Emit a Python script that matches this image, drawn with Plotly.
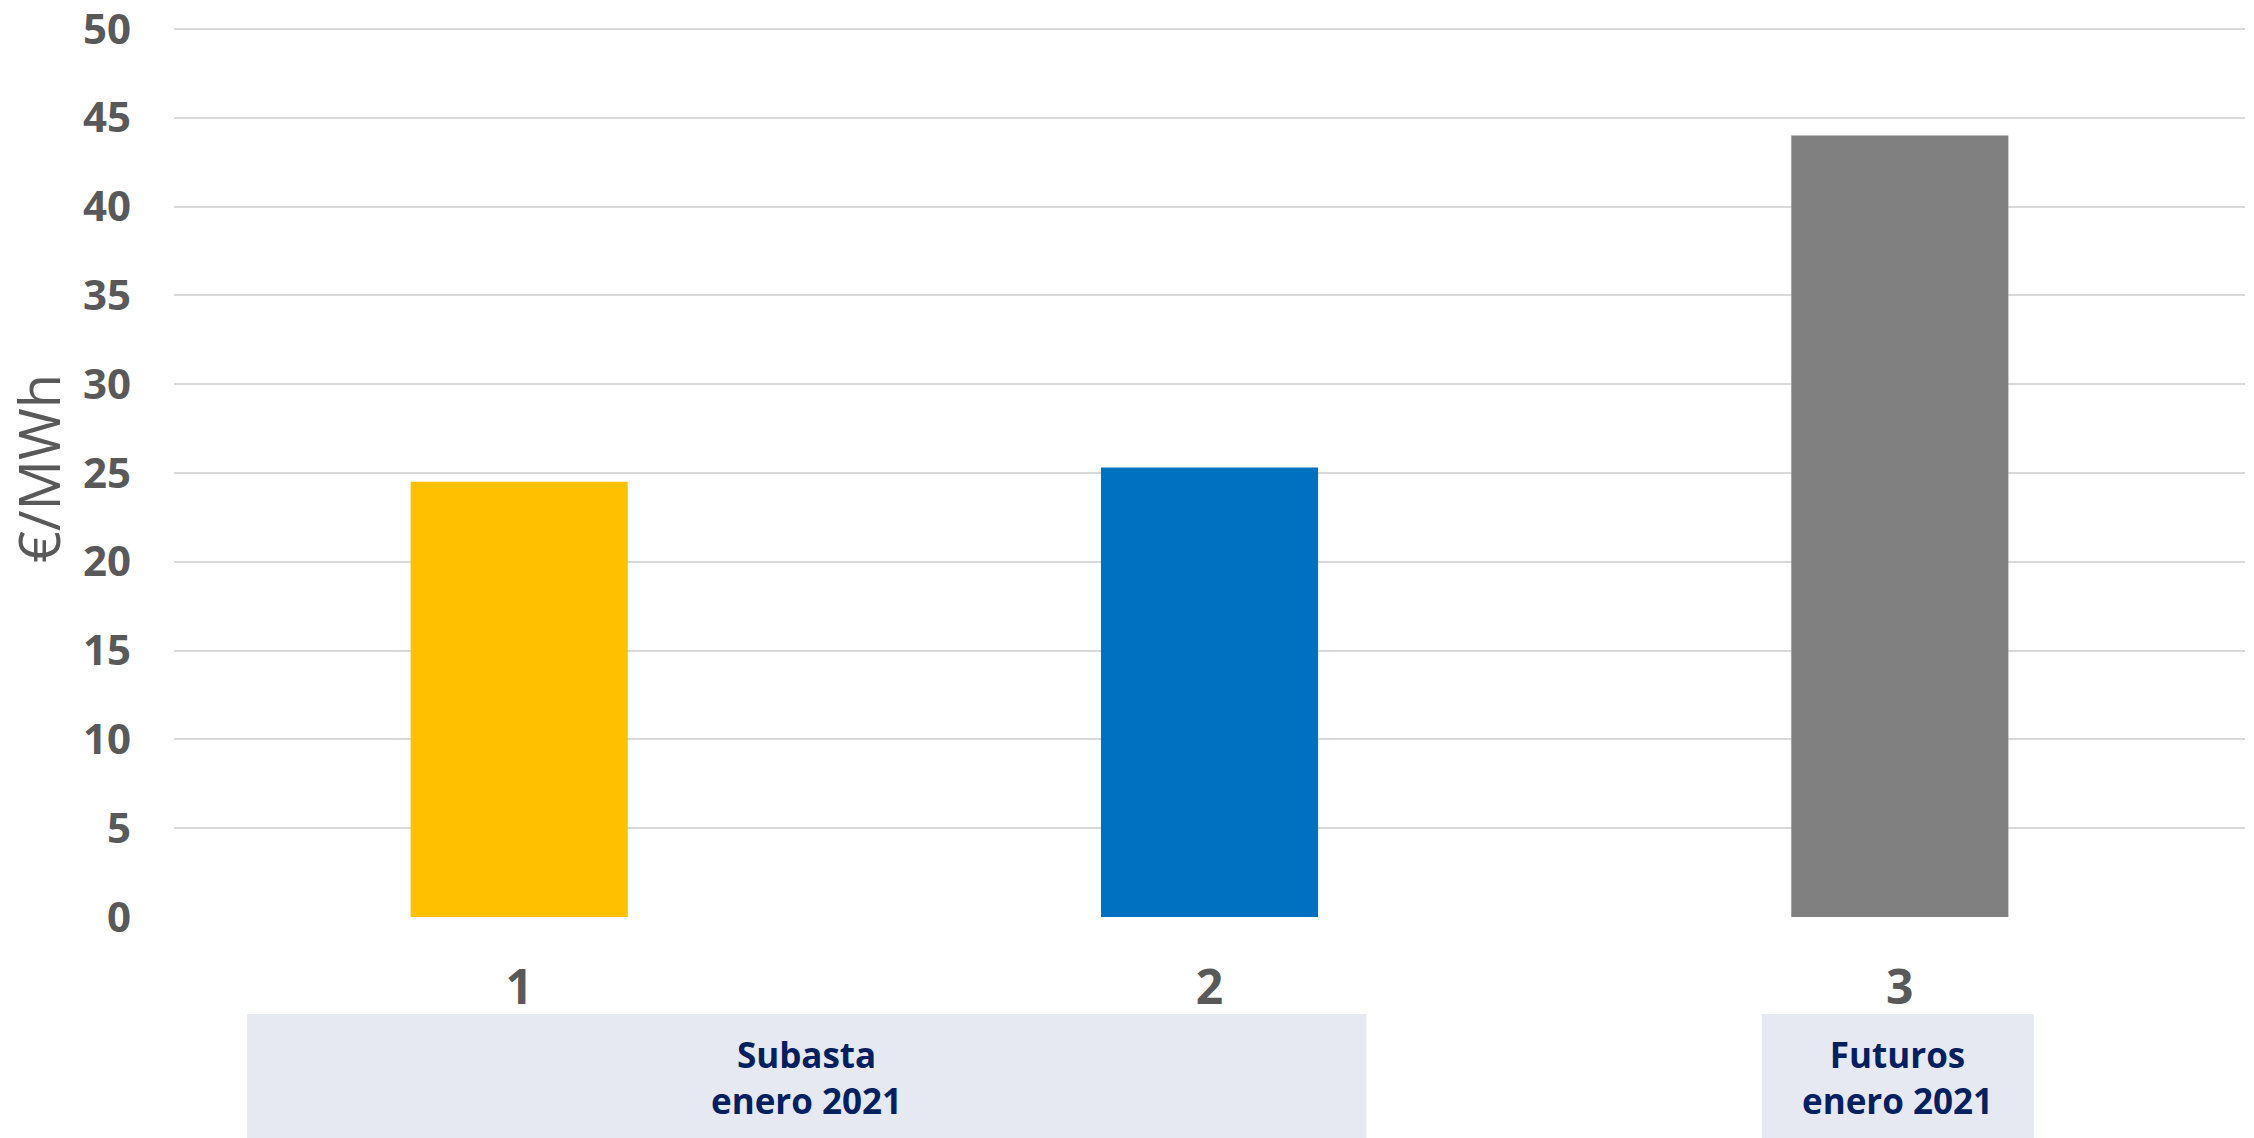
import plotly.graph_objects as go

categories = ["1", "2", "3"]
values = [24.5, 25.3, 44.0]
bar_colors = ["#FFC000", "#0070C0", "#808080"]
y_ticks = [0, 5, 10, 15, 20, 25, 30, 35, 40, 45, 50]
group_labels = ["Subasta<br>enero 2021", "Futuros<br>enero 2021"]
y_title = "€/MWh"

FONT = "Open Sans"
GRAY = "#595959"
NAVY = "#002060"
BOX = "#E6E9F2"

fig = go.Figure()
fig.add_trace(go.Bar(
    x=categories, y=values,
    marker=dict(color=bar_colors, line=dict(width=0)),
    showlegend=False, hoverinfo="x+y",
))

W, H = 2254, 1138
L, R, T, B = 174, 9, 20, 221
Y_MAX = 50.5

fig.update_layout(
    width=W, height=H,
    margin=dict(l=L, r=R, t=T, b=B, pad=0, autoexpand=False),
    paper_bgcolor="white", plot_bgcolor="white",
    bargap=0.6855,
    font=dict(family=FONT, color=GRAY),
    xaxis=dict(
        type="category", automargin=False,
        showgrid=False, showline=False, zeroline=False,
        ticks="", ticklabelstandoff=38,
        tickfont=dict(family=FONT, size=48, color=GRAY, weight="bold"),
    ),
    yaxis=dict(
        range=[0, Y_MAX], tickvals=y_ticks, automargin=False,
        showgrid=True, gridcolor="#D9D9D9", gridwidth=2,
        zeroline=False, showline=False, ticks="",
        ticklabelstandoff=42, ticklabeloverflow="allow",
        tickfont=dict(family=FONT, size=42, color=GRAY, weight="bold"),
        title=dict(text=y_title, standoff=10,
                   font=dict(family=FONT, size=56, color=GRAY)),
    ),
)

# group boxes under the category axis
plot_h = H - T - B
def paper_y(px_from_top):
    return (H - B - px_from_top) / plot_h

boxes = [(-0.394, 1.2275), (1.80, 2.194)]
for (x0, x1), label in zip(boxes, group_labels):
    fig.add_shape(type="rect", xref="x", yref="paper",
                  x0=x0, x1=x1, y0=paper_y(1140), y1=paper_y(1014),
                  fillcolor=BOX, line=dict(width=0), layer="below")
    fig.add_annotation(xref="x", yref="paper", x=(x0 + x1) / 2, y=paper_y(1077),
                       text=label, showarrow=False, yanchor="middle",
                       font=dict(family=FONT, size=35, color=NAVY, weight="bold"))

fig.write_html("out.html", post_script="document.body.style.margin='0';",
               config={"displayModeBar": False})
